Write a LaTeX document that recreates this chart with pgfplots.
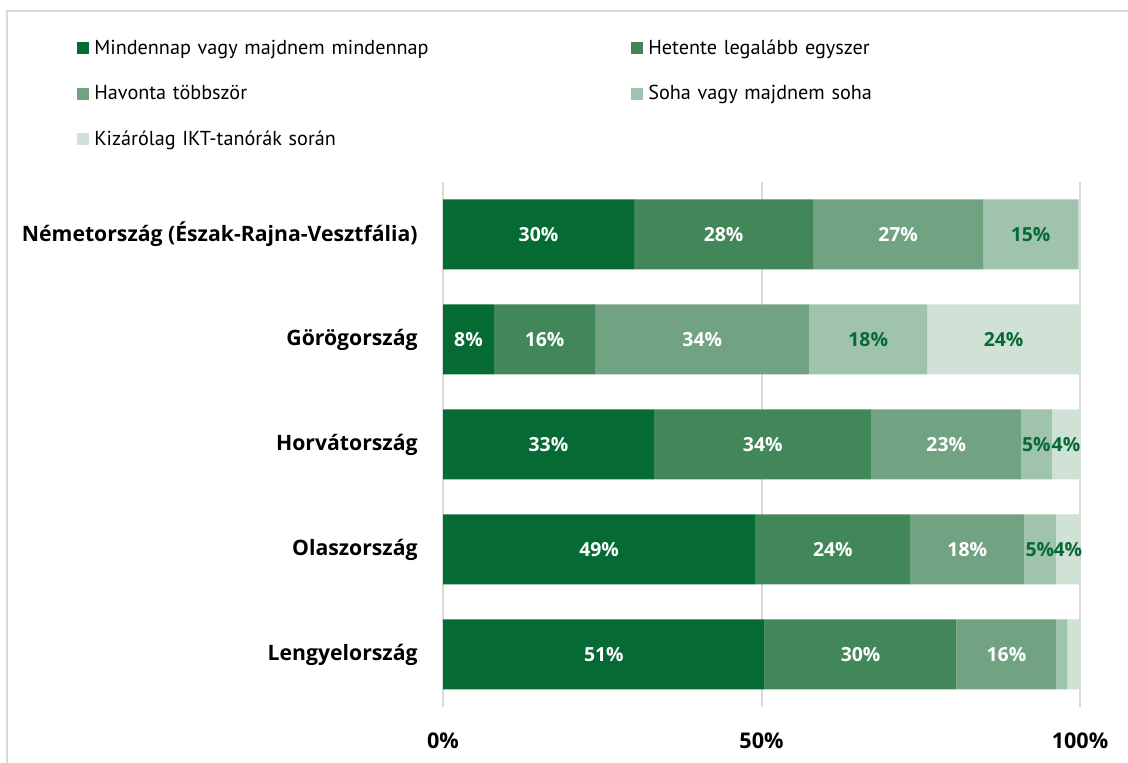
\documentclass[border=0pt]{standalone}
\usepackage{fontspec}
\setmainfont{PT Sans}
\newfontfamily\boldf{Open Sans}[UprightFont=* Bold]
\usepackage{pgfplots}
\pgfplotsset{compat=1.18}
\definecolor{c1}{HTML}{066A35}
\definecolor{c2}{HTML}{41875A}
\definecolor{c3}{HTML}{71A383}
\definecolor{c4}{HTML}{A0C3AD}
\definecolor{c5}{HTML}{D0E1D6}
\definecolor{gridc}{HTML}{D9D9D9}
\pgfplotsset{
  sq/.style={fill=#1, draw=none, legend image code/.code={\fill (0pt,0pt) rectangle (6pt,6pt);}},
  lab/.style={draw=none, mark=none, nodes near coords, point meta=explicit symbolic,
    every node near coord/.append style={anchor=center, text=#1, inner sep=0pt, font=\boldf\fontsize{9.7}{11}\selectfont}},
  geom/.style={at={(221.5pt,28pt)}, anchor=south west, scale only axis, width=318.5pt, height=262.5pt,
    xmin=0, xmax=100, ymin=-0.5, ymax=4.5},
}
\begin{document}
\begin{tikzpicture}
\useasboundingbox (0,0) rectangle (564pt,381.5pt);
\draw[gridc, line width=1pt] (3.5pt,0) -- (3.5pt,376pt) -- (564pt,376pt);
\begin{axis}[geom,
  xbar stacked, bar width=35pt,
  axis line style={draw=none}, major tick length=0pt,
  xmajorgrids, grid style={gridc, line width=1pt},
  xtick={0,50,100}, xticklabels={0\%,50\%,100\%},
  ytick={0,1,2,3,4},
  yticklabels={Lengyelország, Olaszország, Horvátország, Görögország, Németország (Észak-Rajna-Vesztfália)},
  yticklabel style={anchor=east, inner sep=0pt, xshift=-12.5pt, font=\boldf\fontsize{10.6}{12}\selectfont},
  xticklabel style={anchor=north, inner sep=0pt, yshift=-12.5pt, font=\boldf\fontsize{10.8}{12}\selectfont},
  legend columns=2,
  legend style={draw=none, fill=none, inner sep=0pt, anchor=north west,
    at={(axis description cs:-0.5746,1.2705)},
    font=\fontsize{10.1}{12}\selectfont,
    nodes={inner sep=0pt, text height=7pt, text depth=2pt, text width=268.5pt, align=left},
    cells={anchor=base west},
    row sep=13.75pt,
    /tikz/every odd column/.append style={column sep=2.5pt}},
]
\addplot[sq=c1] coordinates {(50.5,0) (49.0,1) (33.1,2) (8.0,3) (30.0,4)};
\addplot[sq=c2] coordinates {(30.1,0) (24.4,1) (34.2,2) (15.9,3) (28.1,4)};
\addplot[sq=c3] coordinates {(15.7,0) (17.8,1) (23.4,2) (33.6,3) (26.7,4)};
\addplot[sq=c4] coordinates {(1.7,0) (5.0,1) (4.9,2) (18.5,3) (14.9,4)};
\addplot[sq=c5] coordinates {(2.0,0) (3.8,1) (4.4,2) (24.0,3) (0.3,4)};
\legend{Mindennap vagy majdnem mindennap, Hetente legalább egyszer, Havonta többször, Soha vagy majdnem soha, Kizárólag IKT-tanórák során}
\end{axis}
\begin{axis}[geom, hide axis, clip=false]
\addplot[lab=white] coordinates {(25.25,0)[51\%] (24.5,1)[49\%] (16.55,2)[33\%] (4.0,3)[8\%] (15.0,4)[30\%]};
\addplot[lab=white] coordinates {(65.55,0)[30\%] (61.2,1)[24\%] (50.2,2)[34\%] (15.95,3)[16\%] (44.05,4)[28\%]};
\addplot[lab=white] coordinates {(88.45,0)[16\%] (82.3,1)[18\%] (79.0,2)[23\%] (40.7,3)[34\%] (71.45,4)[27\%]};
\addplot[lab=c1] coordinates {(93.7,1)[5\%] (93.15,2)[5\%] (66.75,3)[18\%] (92.25,4)[15\%]};
\addplot[lab=c1] coordinates {(98.1,1)[4\%] (97.8,2)[4\%] (88.0,3)[24\%]};
\end{axis}
\end{tikzpicture}
\end{document}
